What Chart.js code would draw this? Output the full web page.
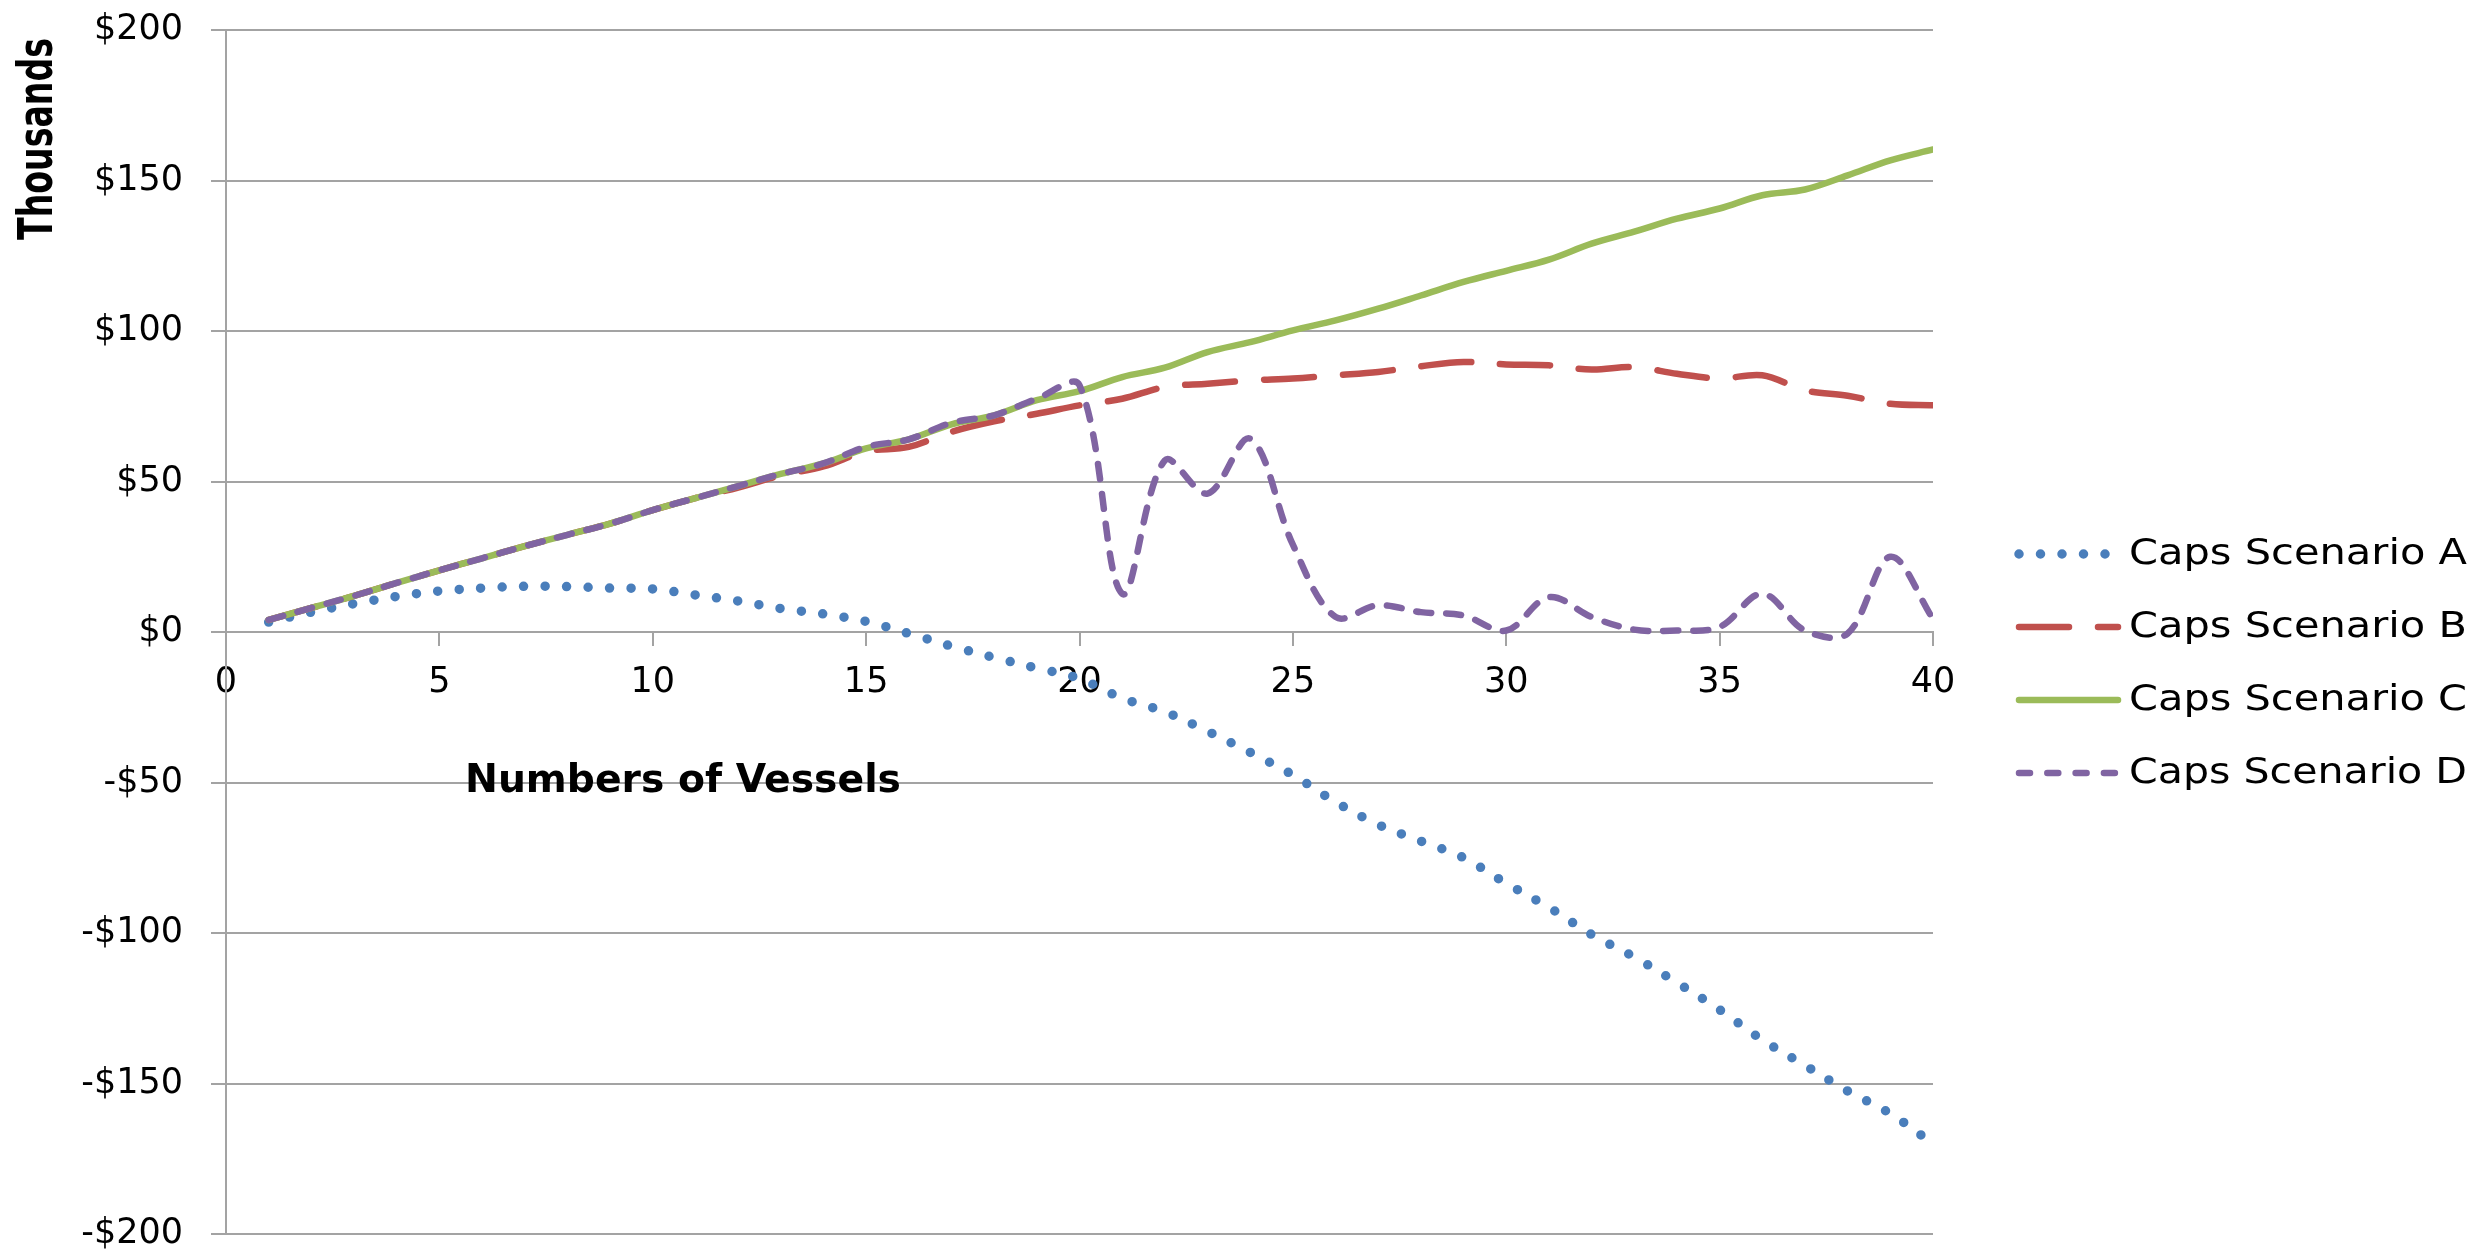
<!DOCTYPE html>
<html>
<head>
<meta charset="utf-8">
<title>Caps Scenarios</title>
<script src="https://cdn.jsdelivr.net/npm/chart.js@4.4.1/dist/chart.umd.min.js"></script>
<style>
  html, body { margin: 0; padding: 0; background: #fff; }
  canvas { display: block; }
</style>
</head>
<body>
<canvas id="chart" width="2481" height="1250"></canvas>
<script>
// number of vessels (x) and the four scenarios in thousands of $
const vessels = [1, 2, 3, 4, 5, 6, 7, 8, 9, 10, 11, 12, 13, 14, 15, 16, 17, 18, 19, 20,
  21, 22, 23, 24, 25, 26, 27, 28, 29, 30, 31, 32, 33, 34, 35, 36, 37, 38, 39, 40];

const capsA = [3.3, 6.6, 9.4, 11.8, 13.6, 14.6, 15.2, 15.1, 14.6, 14.3, 12.3, 10.3, 7.8, 6.0, 3.5, -0.5, -4.7, -8.5, -12, -15.5,
  -22, -26.5, -33, -40, -47.5, -56.5, -64, -69.5, -75, -83.5, -91.5, -100.5, -108, -116.5, -125.5, -135.5, -144, -152.5, -160, -170];
const capsB = [4, 8, 12, 16.3, 20.5, 24.5, 28.5, 32.3, 36, 40.5, 44.5, 48, 52, 55, 60, 61.5, 66.5, 70, 72.5, 75.3,
  77.5, 81.4, 82.5, 83.6, 84.2, 85.3, 86.4, 88.3, 89.7, 88.9, 88.6, 87.2, 88, 85.8, 84.2, 85.3, 80.3, 78.5, 75.8, 75.3];
const capsC = [4, 8, 12, 16.3, 20.5, 24.5, 28.5, 32.3, 36, 40.5, 44.5, 48.5, 52.5, 56, 61, 64, 69, 72, 77, 80,
  84.7, 87.8, 93, 96.3, 100.2, 103.5, 107.4, 111.8, 116.3, 120, 123.7, 129, 133, 137.3, 140.7, 145.1, 147, 151.7, 156.7, 160.3];
const capsD = [4, 8, 12, 16.3, 20.5, 24.5, 28.5, 32.3, 36, 40.5, 44.5, 48.5, 52.5, 56, 61.5, 64, 69.5, 72, 77.5, 82,
  12.7, 57, 46, 64.2, 29, 5, 8.9, 6.6, 5.5, 0.5, 11.6, 5, 0.8, 0.5, 1.7, 12.7, 0.5, -0.5, 25, 4.4];

const seriesNames = ['Caps Scenario A', 'Caps Scenario B', 'Caps Scenario C', 'Caps Scenario D'];
const xTicks = [0, 5, 10, 15, 20, 25, 30, 35, 40];
const yTicks = [-200, -150, -100, -50, 0, 50, 100, 150, 200];
const yTitle = 'Thousands';
const xTitle = 'Numbers of Vessels';

const gridColor = '#a3a3a3';
const tickFont = { family: '"DejaVu Sans"', size: 35, lineHeight: 1.2 };

const toPoints = function (values) {
  return vessels.map((v, i) => ({ x: v, y: values[i] }));
};

const dollars = function (v) {
  return v < 0 ? '-$' + Math.abs(v) : '$' + v;
};

// draw text squeezed/stretched to a given width
const fitText = function (ctx, text, x, y, width) {
  const w = ctx.measureText(text).width;
  ctx.save();
  ctx.translate(x, y);
  ctx.scale(width / w, 1);
  ctx.fillText(text, 0, 0);
  ctx.restore();
};

const extras = {
  id: 'extras',
  afterDraw(chart) {
    const ctx = chart.ctx;
    ctx.save();
    ctx.fillStyle = '#000';

    // y axis title, rotated
    ctx.save();
    ctx.font = 'bold 48px "DejaVu Sans"';
    ctx.translate(52, 139);
    ctx.rotate(-Math.PI / 2);
    ctx.textAlign = 'left';
    ctx.textBaseline = 'alphabetic';
    const tw = ctx.measureText(yTitle).width;
    ctx.scale(202 / tw, 1);
    ctx.fillText(yTitle, -tw / 2, 0);
    ctx.restore();

    // x axis title sits inside the plot
    ctx.font = 'bold 39px "DejaVu Sans"';
    ctx.textAlign = 'left';
    ctx.textBaseline = 'alphabetic';
    fitText(ctx, xTitle, 465, 792, 436);

    // legend on the right
    const rows = [554, 627, 700, 773];
    chart.data.datasets.forEach((ds, i) => {
      const y = rows[i];
      ctx.save();
      ctx.strokeStyle = ds.borderColor;
      ctx.lineWidth = ds.borderWidth;
      ctx.lineCap = 'round';
      ctx.setLineDash(ds.legendDash || ds.borderDash || []);
      ctx.beginPath();
      ctx.moveTo(2019, y);
      ctx.lineTo(2118, y);
      ctx.stroke();
      ctx.restore();

      ctx.font = '35px "DejaVu Sans"';
      ctx.textBaseline = 'middle';
      fitText(ctx, ds.label, 2129, y + 1, 338);
    });
    ctx.restore();
  }
};

const chart = new Chart(document.getElementById('chart'), {
  type: 'line',
  data: {
    datasets: [
      {
        label: seriesNames[0],
        data: toPoints(capsA),
        borderColor: '#4a7ebb',
        borderWidth: 9.5,
        borderDash: [0, 21.5],
        borderCapStyle: 'round',
        order: 3
      },
      {
        label: seriesNames[1],
        data: toPoints(capsB),
        borderColor: '#c0504d',
        borderWidth: 6.5,
        borderDash: [50, 29],
        borderCapStyle: 'round',
        order: 2
      },
      {
        label: seriesNames[2],
        data: toPoints(capsC),
        borderColor: '#9bbb59',
        borderWidth: 6.5,
        borderCapStyle: 'round',
        order: 1
      },
      {
        label: seriesNames[3],
        data: toPoints(capsD),
        borderColor: '#8064a2',
        borderWidth: 6.5,
        borderDash: [15, 15],
        legendDash: [11, 17.3],
        borderCapStyle: 'round',
        order: 0
      }
    ]
  },
  options: {
    responsive: false,
    animation: false,
    devicePixelRatio: 1,
    layout: { padding: { left: 0, top: 30, right: 548, bottom: 16 } },
    elements: {
      point: { radius: 0, hoverRadius: 0 },
      line: { tension: 0.35, fill: false }
    },
    plugins: {
      legend: { display: false },
      tooltip: { enabled: false }
    },
    scales: {
      x: {
        type: 'linear',
        min: 0,
        max: 40,
        position: { y: 0 },
        afterBuildTicks: (s) => { s.ticks = xTicks.map(v => ({ value: v })); },
        grid: { drawOnChartArea: false, drawTicks: true, tickLength: 13, color: gridColor, lineWidth: 2 },
        border: { display: true, color: gridColor, width: 2 },
        ticks: { font: tickFont, color: '#000', padding: 17, maxRotation: 0, autoSkip: false }
      },
      y: {
        type: 'linear',
        min: -200,
        max: 200,
        afterBuildTicks: (s) => { s.ticks = yTicks.map(v => ({ value: v })); },
        afterFit: (s) => {
          s.width = 226;
          // labels may hang over the ends, keep the plot area as in the original
          s.paddingTop = 0;
          s.paddingBottom = 0;
        },
        grid: { color: gridColor, lineWidth: 2, tickLength: 15 },
        border: { display: true, color: gridColor, width: 2 },
        ticks: { font: tickFont, color: '#000', padding: 28, callback: dollars }
      }
    }
  },
  plugins: [extras]
});
</script>
</body>
</html>
